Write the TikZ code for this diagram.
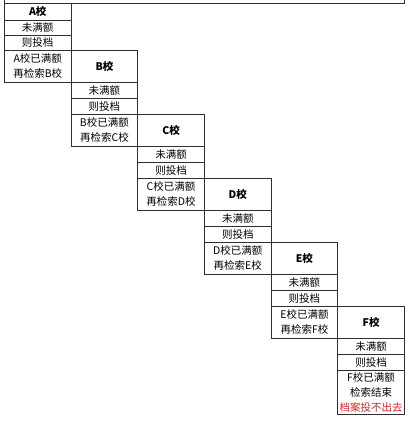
\documentclass[tikz,border=0pt]{standalone}
\usepackage{fontspec}
\setmainfont{Noto Sans CJK SC}
\begin{document}
\begin{tikzpicture}[x=1pt,y=-1pt,
  cell/.style={draw=linec, line width=0.8pt, rectangle, inner sep=0pt, anchor=north west,
    minimum width=66.7pt, align=center, font=\fontsize{10.5}{15}\selectfont, text=black},
  head/.style={cell, font=\fontsize{10.5}{15}\selectfont\bfseries},
  frame/.style={draw=linec, line width=0.8pt}]
\definecolor{linec}{HTML}{303030}
\definecolor{warnred}{HTML}{E02020}
\useasboundingbox (0,0) rectangle (410,424);
% top frame
\coordinate (fl0) at (4,0);
\coordinate (fl1) at (4,3);
\coordinate (fr1) at (404,3);
\coordinate (fr0) at (404,0);
\draw[frame] (fl0) -- (fl1) -- (fr1) -- (fr0);
% column A
\node[head, minimum height=17pt] (hA) at (4,3) {A校};
\node[cell, minimum height=15pt] (uA) at (4,20) {未满额};
\node[cell, minimum height=15pt] (tA) at (4,35) {则投档};
\node[cell, minimum height=32pt] (pA) at (4,50) {A校已满额\\再检索B校};
% columns B..E
\foreach \k/\cl/\cn in {1/B/C,2/C/D,3/D/E,4/E/F}{
  \pgfmathsetmacro{\xx}{4+66.67*\k}
  \pgfmathsetmacro{\yy}{50+64*(\k-1)}
  \node[head, minimum height=32pt] (h\cl) at (\xx,\yy) {{\cl}校};
  \node[cell, minimum height=15.5pt] (u\cl) at (\xx,\yy+32) {未满额};
  \node[cell, minimum height=16.5pt] (t\cl) at (\xx,\yy+47.5) {则投档};
  \node[cell, minimum height=32pt] (p\cl) at (\xx,\yy+64) {{\cl}校已满额\\再检索{\cn}校};
}
% column F
\node[head, minimum height=32pt] (hF) at (337.35,306) {F校};
\node[cell, minimum height=15.5pt] (uF) at (337.35,338) {未满额};
\node[cell, minimum height=16.5pt] (tF) at (337.35,353.5) {则投档};
\node[cell, minimum height=44pt] (pF) at (337.35,370) {F校已满额\\检索结束\\\textcolor{warnred}{档案投不出去}};
\end{tikzpicture}
\end{document}
